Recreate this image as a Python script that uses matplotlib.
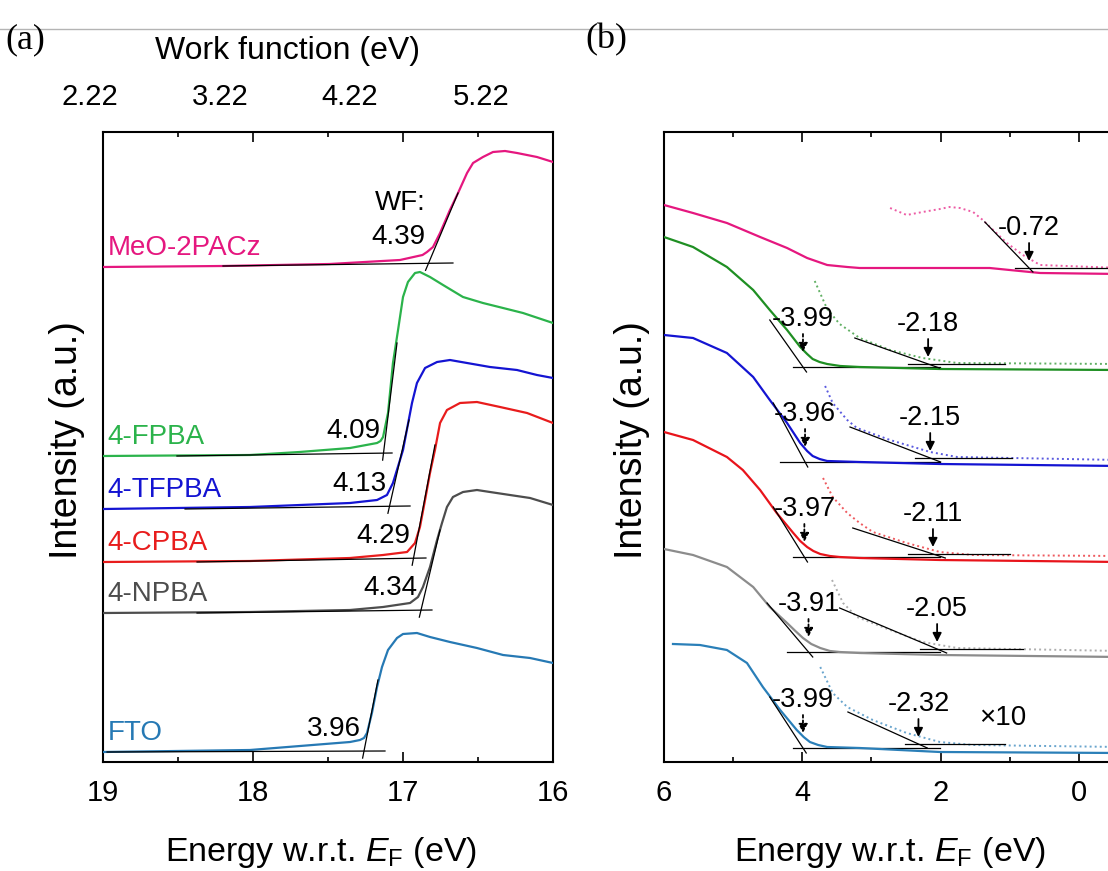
import matplotlib
matplotlib.use("Agg")
import matplotlib.pyplot as plt
from matplotlib.lines import Line2D
from matplotlib.ticker import MultipleLocator
import numpy as np

plt.rcParams["font.family"] = ["Liberation Sans", "DejaVu Sans"]
plt.rcParams["mathtext.fontset"] = "custom"
plt.rcParams["mathtext.rm"] = "Liberation Sans"
plt.rcParams["mathtext.it"] = "Liberation Sans:italic"

HE_I = 21.22  # photon energy, work function = hv - cutoff

# ---------------- (a) secondary-electron cutoff ----------------
samples = ["MeO-2PACz", "4-FPBA", "4-TFPBA", "4-CPBA", "4-NPBA", "FTO"]
work_fn = [4.39, 4.09, 4.13, 4.29, 4.34, 3.96]
wf_ticks = [2.22, 3.22, 4.22, 5.22]

meo_e = [19.0, 18.2, 17.49, 17.02, 16.87, 16.84, 16.80, 16.753, 16.687, 16.633,
         16.573, 16.533, 16.467, 16.40, 16.32, 16.24, 16.107, 16.0]
meo_i = [495, 496, 498, 502, 507, 510, 515, 529, 552, 569,
         589, 599, 605, 610, 611, 609, 605, 600]
fpba_e = [19.0, 18.02, 17.69, 17.353, 17.173, 17.15, 17.133, 17.10, 17.067, 17.033, 17.0,
          16.967, 16.92, 16.887, 16.82, 16.733, 16.60, 16.467, 16.333, 16.20, 16.0]
fpba_i = [306, 307, 310, 314, 319, 321, 325, 349, 399, 432, 465,
          480, 489, 490, 485, 477, 465, 459, 454, 449, 439]
tfpba_e = [19.0, 18.02, 17.353, 17.173, 17.107, 17.067, 17.02, 17.0, 16.94, 16.907,
           16.853, 16.773, 16.687, 16.573, 16.42, 16.24, 16.107, 16.0]
tfpba_i = [253, 255, 259, 262, 267, 279, 302, 312, 359, 379,
           394, 400, 402, 399, 395, 392, 387, 384]
cpba_e = [19.0, 18.02, 17.353, 17.133, 16.973, 16.92, 16.887, 16.853, 16.82, 16.787,
          16.753, 16.707, 16.62, 16.507, 16.353, 16.173, 16.0]
cpba_i = [200, 201, 204, 207, 210, 219, 235, 262, 289, 312,
          339, 352, 359, 360, 355, 349, 339]
npba_e = [19.0, 18.02, 17.353, 17.133, 16.953, 16.90, 16.867, 16.82, 16.773, 16.74,
          16.707, 16.667, 16.60, 16.507, 16.42, 16.287, 16.153, 16.0]
npba_i = [149, 150, 152, 155, 159, 165, 175, 195, 222, 239,
          255, 265, 270, 272, 270, 267, 264, 257]
fto_e = [19.0, 18.02, 17.353, 17.287, 17.26, 17.24, 17.207, 17.173, 17.14, 17.10, 17.04,
         17.0, 16.907, 16.82, 16.687, 16.507, 16.333, 16.153, 16.0]
fto_i = [10, 12, 20, 22, 24, 29, 49, 75, 95, 112, 124,
         128, 129, 125, 120, 114, 107, 104, 99]

# linear background fits (start E, start I, end E, end I) and top point of edge fit
base_fit_a = [(18.2, 496, 16.667, 499), (18.507, 306, 17.073, 309),
              (18.453, 253, 16.953, 256), (18.373, 200, 16.847, 204),
              (18.373, 149, 16.807, 152), (18.973, 10, 17.12, 11)]
edge_top_a = [(16.633, 569), (17.04, 419), (16.96, 342),
              (16.787, 317), (16.753, 232), (17.167, 82)]

# ---------------- (b) valence band ----------------
vb_meo_e = [6.0, 5.58, 5.09, 4.61, 4.22, 3.93, 3.64, 3.35, 3.17, 2.49, 1.76, 1.29, 1.00, 0.56, -0.6]
vb_meo_i = [557, 549, 539, 525, 514, 504, 497, 495, 494, 494, 494, 494, 492, 489, 488]
vb_fpba_e = [6.0, 5.58, 5.09, 4.71, 4.47, 4.22, 4.03, 3.93, 3.85, 3.75, 3.64, 3.45, 3.17, 2.01, -0.6]
vb_fpba_i = [525, 515, 495, 472, 452, 432, 415, 408, 403, 400, 398, 396, 395, 393, 392]
vb_tfpba_e = [6.0, 5.58, 5.09, 4.71, 4.47, 4.22, 4.03, 3.93, 3.85, 3.75, 3.64, 3.17, 2.01, -0.6]
vb_tfpba_i = [427, 424, 409, 385, 362, 339, 319, 311, 306, 303, 301, 300, 298, 296]
vb_cpba_e = [6.0, 5.58, 5.09, 4.86, 4.61, 4.37, 4.13, 4.03, 3.93, 3.84, 3.74, 3.60, 3.46, 3.17, 2.01, -0.6]
vb_cpba_i = [330, 322, 305, 292, 272, 249, 229, 221, 215, 211, 208, 206, 205, 204, 202, 200]
vb_npba_e = [6.0, 5.58, 5.09, 4.71, 4.47, 4.22, 4.10, 3.99, 3.87, 3.74, 3.60, 3.46, 3.17, 2.01, -0.6]
vb_npba_i = [213, 207, 195, 175, 155, 139, 131, 124, 118, 114, 111, 110, 109, 107, 105]
vb_fto_e = [5.87, 5.48, 5.09, 4.80, 4.57, 4.32, 4.08, 3.98, 3.89, 3.77, 3.64, 3.17, 2.01, -0.6]
vb_fto_i = [118, 117, 112, 99, 75, 52, 32, 25, 20, 17, 15, 14, 10, 9]

# x10 magnified traces near the onset
x10_meo_e = [2.73, 2.49, 2.26, 2.01, 1.87, 1.72, 1.53, 1.39, 1.24, 1.04, 0.81, 0.56, -0.6]
x10_meo_i = [554, 547, 550, 553, 555, 554, 550, 542, 532, 519, 507, 497, 494]
x10_fpba_e = [3.82, 3.64, 3.46, 3.17, 2.73, 2.26, 1.76, -0.6]
x10_fpba_i = [481, 453, 438, 424, 412, 404, 399, 398]
x10_tfpba_e = [3.67, 3.56, 3.35, 3.21, 2.73, 2.15, 1.76, -0.6]
x10_tfpba_i = [376, 359, 342, 334, 322, 310, 305, 302]
x10_cpba_e = [3.70, 3.56, 3.35, 3.17, 2.98, 2.49, 2.01, 1.53, -0.6]
x10_cpba_i = [284, 265, 249, 239, 230, 219, 210, 207, 206]
x10_npba_e = [3.57, 3.41, 3.21, 2.73, 2.26, 1.76, -0.6]
x10_npba_i = [182, 159, 145, 132, 120, 114, 111]
x10_fto_e = [3.74, 3.56, 3.35, 2.98, 2.49, 2.01, 1.53, -0.6]
x10_fto_i = [95, 69, 55, 42, 29, 20, 17, 15]

# VB onset fits (4-FPBA .. FTO)
vb_onset = [3.99, 3.96, 3.97, 3.91, 3.99]
vb_base = [395, 300, 205, 110, 14]
vb_top = [(4.47, 442), (4.42, 359), (4.42, 255), (4.51, 159), (4.47, 65)]
vb_fit_from = [4.13, 4.32, 4.13, 4.22, 4.13]

# x10 onset fits (MeO-2PACz .. FTO)
x10_onset = [0.72, 2.18, 2.15, 2.11, 2.05, 2.32]
x10_base = [494, 398, 304, 208, 113, 18]
x10_top = [(1.36, 540), (3.24, 424), (3.31, 335), (3.27, 234), (3.46, 154), (3.34, 50)]
x10_fit_span = [(0.93, -0.6), (2.47, 1.07), (2.37, 0.97), (2.47, 1.00), (2.30, 0.81), (2.52, 1.07)]

colors_a = ["#e5177f", "#2bb34b", "#1414d2", "#e81c1c", "#4d4d4d", "#2679b4"]
colors_b = ["#e5177f", "#1f8f23", "#1414d2", "#e8141b", "#8c8c8c", "#2a7fb8"]

FS_TICK = 21
FS_XLABEL = 24.5
FS_NOTE = 20


def edge_line(ax, e0, i0, e_top, i_top, below):
    """Straight fit through (e0, i0) and the top point, run a bit past the base."""
    slope = (i_top - i0) / (e_top - e0)
    e_low = e0 + (-below) / slope
    ax.plot([e_low, e_top], [i0 - below, i_top], color="black", lw=0.9, zorder=4)


def style_axis(ax, label_x, ylabel_x):
    for s in ax.spines.values():
        s.set_linewidth(1.5)
    ax.xaxis.set_minor_locator(MultipleLocator(0.5 if ax is ax_a else 1))
    ax.tick_params(which="both", direction="in", top=True, bottom=True,
                   left=False, right=False, labelleft=False, width=1.2,
                   labelsize=FS_TICK, pad=12)
    ax.tick_params(which="major", length=7)
    ax.tick_params(which="minor", length=3.5)
    ax.set_ylim(0, 630)
    ax.set_xlabel(r"Energy w.r.t. $E_{\mathrm{F}}$ (eV)", fontsize=FS_XLABEL)
    ax.xaxis.set_label_coords(label_x, -0.116)
    ax.set_ylabel("Intensity (a.u.)", fontsize=27)
    ax.yaxis.set_label_coords(ylabel_x, 0.511)


fig = plt.figure(figsize=(11.08, 8.71), dpi=100)
ax_a = fig.add_axes([103 / 1108, 109 / 871, 450 / 1108, 630 / 871])
ax_b = fig.add_axes([664 / 1108, 109 / 871, 484 / 1108, 630 / 871])

# ---- panel (a)
cutoff_curves = [(meo_e, meo_i), (fpba_e, fpba_i), (tfpba_e, tfpba_i),
                 (cpba_e, cpba_i), (npba_e, npba_i), (fto_e, fto_i)]
for k, (e, i) in enumerate(cutoff_curves):
    ax_a.plot(e, i, color=colors_a[k], lw=1.6, zorder=3)
    e_s, i_s, e_e, i_e = base_fit_a[k]
    ax_a.plot([e_s, e_e], [i_s, i_e], color="black", lw=0.9, zorder=4)
    cut = HE_I - work_fn[k]
    i_cut = np.interp(cut, [e_e, e_s], [i_e, i_s])
    edge_line(ax_a, cut, i_cut, *edge_top_a[k], below=7)
    ax_a.text(18.97, i[0] + 19, samples[k], color=colors_a[k], fontsize=FS_NOTE,
              ha="left", va="center")
    val = f"{work_fn[k]:.2f}"
    if k == 0:
        ax_a.text(cut + 0.02, i_cut + 26, val, fontsize=FS_NOTE, ha="right", va="center")
        ax_a.text(cut + 0.02, i_cut + 60, "WF:", fontsize=FS_NOTE, ha="right", va="center")
    else:
        ax_a.text(cut + 0.02, i_cut + 22, val, fontsize=FS_NOTE, ha="right", va="center")

ax_a.set_xlim(19, 16)
ax_a.set_xticks([19, 18, 17, 16])
style_axis(ax_a, 0.484, -0.04)

# work-function scale along the top
wf_pos = [-0.029, 0.26, 0.549, 0.84]
for p, v in zip(wf_pos, wf_ticks):
    ax_a.text(p, 1.0556, f"{v:.2f}", transform=ax_a.transAxes, fontsize=FS_TICK,
              ha="center", va="center")
ax_a.text(0.409, 1.128, "Work function (eV)", transform=ax_a.transAxes,
          fontsize=23, ha="center", va="center")

# ---- panel (b)
vb_curves = [(vb_meo_e, vb_meo_i), (vb_fpba_e, vb_fpba_i), (vb_tfpba_e, vb_tfpba_i),
             (vb_cpba_e, vb_cpba_i), (vb_npba_e, vb_npba_i), (vb_fto_e, vb_fto_i)]
x10_curves = [(x10_meo_e, x10_meo_i), (x10_fpba_e, x10_fpba_i), (x10_tfpba_e, x10_tfpba_i),
              (x10_cpba_e, x10_cpba_i), (x10_npba_e, x10_npba_i), (x10_fto_e, x10_fto_i)]

for k, ((e, i), (ez, iz)) in enumerate(zip(vb_curves, x10_curves)):
    ax_b.plot(e, i, color=colors_b[k], lw=1.6, zorder=3)
    ax_b.plot(ez, iz, color=colors_b[k], lw=1.4, ls=(0, (1, 1.6)), alpha=0.7, zorder=2)


def arrow(ax, e, tip, dotted):
    ls = (0, (1.5, 1.5)) if dotted else "-"
    ax.annotate("", xy=(e, tip), xytext=(e, tip + 18),
                arrowprops=dict(arrowstyle="-|>", color="black", lw=1.3, linestyle=ls,
                                mutation_scale=13, shrinkA=0, shrinkB=0), zorder=6)
    return tip + 18


for k in range(5):
    onset = vb_onset[k]
    base = vb_base[k]
    ax_b.plot([vb_fit_from[k], 2.01], [base, base], color="black", lw=0.9, zorder=2.5)
    edge_line(ax_b, onset, base, *vb_top[k], below=5)
    top = arrow(ax_b, onset, base + 15, dotted=True)
    ax_b.text(onset, top + 2, f"-{onset:.2f}", fontsize=19.5, ha="center", va="bottom",
              zorder=7)

for k in range(6):
    onset = x10_onset[k]
    base = x10_base[k]
    e0, e1 = x10_fit_span[k]
    ax_b.plot([e0, e1], [base, base], color="black", lw=0.9, zorder=4)
    edge_line(ax_b, onset, base, *x10_top[k], below=4)
    top = arrow(ax_b, onset, base + 7, dotted=False)
    ax_b.text(onset, top + 2, f"-{onset:.2f}", fontsize=19.5, ha="center", va="bottom",
              zorder=7)

ax_b.text(1.10, 44, "×10", fontsize=FS_NOTE, ha="center", va="center")

ax_b.set_xlim(6, -1)
ax_b.set_xticks([6, 4, 2, 0])
style_axis(ax_b, 0.467, -0.029)

# panel tags and the thin rule across the top
fig.add_artist(Line2D([0, 1], [1 - 29 / 871, 1 - 29 / 871], transform=fig.transFigure,
                      color="#b4b4b4", lw=1.0, zorder=0))
fig.text(5 / 1108, 1 - 40 / 871, "(a)", family="Liberation Serif", fontsize=26,
         ha="left", va="center")
fig.text(585 / 1108, 1 - 40 / 871, "(b)", family="Liberation Serif", fontsize=26,
         ha="left", va="center")

fig.savefig("out.png", dpi=100)
